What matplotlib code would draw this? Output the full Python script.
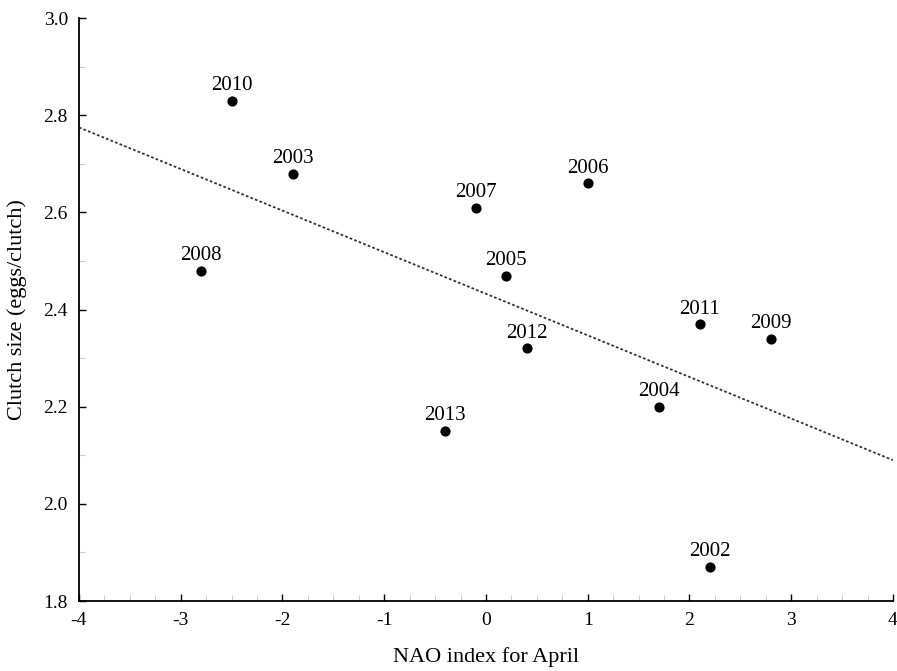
import matplotlib
matplotlib.use('Agg')
from matplotlib import pyplot as plt
from matplotlib.ticker import MultipleLocator

# NAO index for April vs clutch size, per year
years = ['2010', '2003', '2008', '2007', '2006', '2005', '2012',
         '2013', '2011', '2009', '2004', '2002']
nao = [-2.5, -1.9, -2.8, -0.1, 1.0, 0.2, 0.4, -0.4, 2.1, 2.8, 1.7, 2.2]
clutch = [2.83, 2.68, 2.48, 2.61, 2.66, 2.47, 2.32, 2.15, 2.37, 2.34, 2.20, 1.87]

# regression line end points
fit_x = [-4, 4]
fit_y = [2.775, 2.09]

plt.rcParams['font.family'] = ['Liberation Serif', 'DejaVu Serif']
plt.rcParams['axes.unicode_minus'] = False

fig = plt.figure(figsize=(8.97, 6.71), dpi=100)
ax = fig.add_axes([0.088, 0.1043, 0.9075, 0.8687])

ax.plot(fit_x, fit_y, color='#333333', lw=1.3, linestyle=(0, (1.5, 1.2)))
ax.scatter(nao, clutch, s=40, color='black', zorder=3)
for yr, x, y in zip(years, nao, clutch):
    ax.annotate(yr, (x, y), xytext=(0, 4), textcoords='offset points',
                ha='center', va='bottom', fontsize=15)

ax.set_xlim(-4, 4)
ax.set_ylim(1.8, 3.0)
ax.xaxis.set_major_locator(MultipleLocator(1))
ax.xaxis.set_minor_locator(MultipleLocator(0.25))
ax.yaxis.set_major_locator(MultipleLocator(0.2))
ax.yaxis.set_minor_locator(MultipleLocator(0.1))
ax.yaxis.set_major_formatter(matplotlib.ticker.FormatStrFormatter('%.1f'))
ax.tick_params(which='major', direction='in', length=5, width=1, labelsize=14, pad=8)
ax.tick_params(which='minor', direction='in', length=4, width=0.8, color='#cccccc')

for side in ['top', 'right']:
    ax.spines[side].set_visible(False)
for side in ['left', 'bottom']:
    ax.spines[side].set_linewidth(1.3)

ax.set_xlabel('NAO index for April', fontsize=16, labelpad=13)
ax.set_ylabel('Clutch size (eggs/clutch)', fontsize=16, labelpad=12)

plt.savefig('out.png', dpi=100)
